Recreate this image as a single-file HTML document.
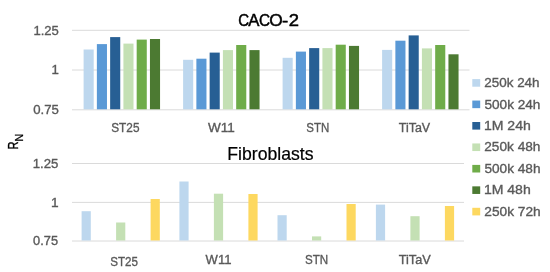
<!DOCTYPE html>
<html><head><meta charset="utf-8"><style>
html,body{margin:0;padding:0;background:#fff;}
body{width:550px;height:272px;overflow:hidden;}
svg{display:block;font-family:"Liberation Sans", sans-serif;transform:translateZ(0);will-change:transform;}
</style></head><body>
<svg width="550" height="272" viewBox="0 0 550 272">
<rect width="550" height="272" fill="#fff"/>
<line x1="72" y1="30.3" x2="469.5" y2="30.3" stroke="#DADADA" stroke-width="1"/>
<line x1="72" y1="70.0" x2="469.5" y2="70.0" stroke="#DADADA" stroke-width="1"/>
<line x1="72" y1="109.8" x2="469.5" y2="109.8" stroke="#DADADA" stroke-width="1"/>
<rect x="83.60" y="49.50" width="10.10" height="59.80" fill="#BDD7EE"/>
<rect x="96.87" y="44.10" width="10.10" height="65.20" fill="#5A99D6"/>
<rect x="110.14" y="37.10" width="10.10" height="72.20" fill="#275F94"/>
<rect x="123.41" y="43.60" width="10.10" height="65.70" fill="#C4E0B4"/>
<rect x="136.68" y="39.60" width="10.10" height="69.70" fill="#6FAC49"/>
<rect x="149.95" y="39.00" width="10.10" height="70.30" fill="#4C7A32"/>
<rect x="183.10" y="59.80" width="10.10" height="49.50" fill="#BDD7EE"/>
<rect x="196.37" y="58.70" width="10.10" height="50.60" fill="#5A99D6"/>
<rect x="209.64" y="52.60" width="10.10" height="56.70" fill="#275F94"/>
<rect x="222.91" y="50.10" width="10.10" height="59.20" fill="#C4E0B4"/>
<rect x="236.18" y="45.00" width="10.10" height="64.30" fill="#6FAC49"/>
<rect x="249.45" y="50.10" width="10.10" height="59.20" fill="#4C7A32"/>
<rect x="282.60" y="57.80" width="10.10" height="51.50" fill="#BDD7EE"/>
<rect x="295.87" y="51.60" width="10.10" height="57.70" fill="#5A99D6"/>
<rect x="309.14" y="48.10" width="10.10" height="61.20" fill="#275F94"/>
<rect x="322.41" y="48.10" width="10.10" height="61.20" fill="#C4E0B4"/>
<rect x="335.68" y="44.70" width="10.10" height="64.60" fill="#6FAC49"/>
<rect x="348.95" y="45.90" width="10.10" height="63.40" fill="#4C7A32"/>
<rect x="382.10" y="49.90" width="10.10" height="59.40" fill="#BDD7EE"/>
<rect x="395.37" y="40.70" width="10.10" height="68.60" fill="#5A99D6"/>
<rect x="408.64" y="35.40" width="10.10" height="73.90" fill="#275F94"/>
<rect x="421.91" y="48.40" width="10.10" height="60.90" fill="#C4E0B4"/>
<rect x="435.18" y="45.00" width="10.10" height="64.30" fill="#6FAC49"/>
<rect x="448.45" y="54.30" width="10.10" height="55.00" fill="#4C7A32"/>
<line x1="72" y1="163.5" x2="464" y2="163.5" stroke="#DADADA" stroke-width="1"/>
<line x1="72" y1="202.4" x2="464" y2="202.4" stroke="#DADADA" stroke-width="1"/>
<line x1="72" y1="241.0" x2="464" y2="241.0" stroke="#DADADA" stroke-width="1"/>
<rect x="81.60" y="211.20" width="9.20" height="29.30" fill="#BDD7EE"/>
<rect x="116.10" y="222.50" width="9.20" height="18.00" fill="#C4E0B4"/>
<rect x="150.60" y="199.00" width="9.20" height="41.50" fill="#FDD860"/>
<rect x="179.40" y="181.50" width="9.20" height="59.00" fill="#BDD7EE"/>
<rect x="213.90" y="193.70" width="9.20" height="46.80" fill="#C4E0B4"/>
<rect x="248.40" y="194.00" width="9.20" height="46.50" fill="#FDD860"/>
<rect x="277.50" y="215.20" width="9.20" height="25.30" fill="#BDD7EE"/>
<rect x="312.00" y="236.40" width="9.20" height="4.10" fill="#C4E0B4"/>
<rect x="346.50" y="204.00" width="9.20" height="36.50" fill="#FDD860"/>
<rect x="375.90" y="204.60" width="9.20" height="35.90" fill="#BDD7EE"/>
<rect x="410.40" y="216.20" width="9.20" height="24.30" fill="#C4E0B4"/>
<rect x="444.90" y="206.00" width="9.20" height="34.50" fill="#FDD860"/>
<text x="33.40" y="34.50" font-size="13.52" fill="#595959" textLength="25.44" lengthAdjust="spacingAndGlyphs" stroke="#595959" stroke-width="0.35">1.25</text>
<text x="51.59" y="73.80" font-size="13.08" fill="#595959" textLength="7.35" lengthAdjust="spacingAndGlyphs" stroke="#595959" stroke-width="0.35">1</text>
<text x="33.18" y="113.70" font-size="13.52" fill="#595959" textLength="25.67" lengthAdjust="spacingAndGlyphs" stroke="#595959" stroke-width="0.35">0.75</text>
<text x="32.70" y="168.20" font-size="13.37" fill="#595959" textLength="25.66" lengthAdjust="spacingAndGlyphs" stroke="#595959" stroke-width="0.35">1.25</text>
<text x="50.96" y="206.60" font-size="12.79" fill="#595959" textLength="7.61" lengthAdjust="spacingAndGlyphs" stroke="#595959" stroke-width="0.35">1</text>
<text x="33.10" y="244.60" font-size="12.50" fill="#595959" textLength="24.94" lengthAdjust="spacingAndGlyphs" stroke="#595959" stroke-width="0.35">0.75</text>
<text x="111.26" y="132.00" font-size="12.94" fill="#595959" textLength="28.23" lengthAdjust="spacingAndGlyphs" stroke="#595959" stroke-width="0.35">ST25</text>
<text x="208.04" y="132.00" font-size="12.94" fill="#595959" textLength="26.79" lengthAdjust="spacingAndGlyphs" stroke="#595959" stroke-width="0.35">W11</text>
<text x="306.28" y="132.20" font-size="12.65" fill="#595959" textLength="22.96" lengthAdjust="spacingAndGlyphs" stroke="#595959" stroke-width="0.35">STN</text>
<text x="398.74" y="132.10" font-size="12.65" fill="#595959" textLength="31.42" lengthAdjust="spacingAndGlyphs" stroke="#595959" stroke-width="0.35">TiTaV</text>
<text x="110.17" y="265.60" font-size="12.79" fill="#595959" textLength="27.71" lengthAdjust="spacingAndGlyphs" stroke="#595959" stroke-width="0.35">ST25</text>
<text x="205.64" y="263.80" font-size="12.94" fill="#595959" textLength="25.87" lengthAdjust="spacingAndGlyphs" stroke="#595959" stroke-width="0.35">W11</text>
<text x="304.97" y="264.00" font-size="12.94" fill="#595959" textLength="23.17" lengthAdjust="spacingAndGlyphs" stroke="#595959" stroke-width="0.35">STN</text>
<text x="398.73" y="263.80" font-size="12.79" fill="#595959" textLength="32.02" lengthAdjust="spacingAndGlyphs" stroke="#595959" stroke-width="0.35">TiTaV</text>
<text x="238.24" y="25.50" font-size="15.84" fill="#000" textLength="10.83" lengthAdjust="spacingAndGlyphs" stroke="#000" stroke-width="0.45">C</text>
<text x="248.27" y="25.50" font-size="15.84" fill="#000" textLength="11.17" lengthAdjust="spacingAndGlyphs" stroke="#000" stroke-width="0.45">A</text>
<text x="259.02" y="25.50" font-size="15.84" fill="#000" textLength="11.06" lengthAdjust="spacingAndGlyphs" stroke="#000" stroke-width="0.45">C</text>
<text x="269.38" y="25.50" font-size="15.84" fill="#000" textLength="13.45" lengthAdjust="spacingAndGlyphs" stroke="#000" stroke-width="0.45">O</text>
<text x="282.06" y="26.20" font-size="15.84" fill="#000" textLength="6.27" lengthAdjust="spacingAndGlyphs" stroke="#000" stroke-width="0.45">-</text>
<text x="288.67" y="25.50" font-size="15.84" fill="#000" textLength="10.25" lengthAdjust="spacingAndGlyphs" stroke="#000" stroke-width="0.45">2</text>
<text x="227.35" y="160.00" font-size="17.44" fill="#000" textLength="86.18" lengthAdjust="spacingAndGlyphs" stroke="#000" stroke-width="0.2">Fibroblasts</text>
<g transform="translate(18.4,149.4) rotate(-90) scale(0.72,1)"><text x="0" y="0" font-size="15.3" fill="#000" stroke="#000" stroke-width="0.35">R</text></g>
<g transform="translate(22.5,141.4) rotate(-90)"><text x="0" y="0" font-size="10.6" fill="#000" stroke="#000" stroke-width="0.25">N</text></g>
<rect x="472.30" y="79.10" width="7.90" height="7.60" fill="#BDD7EE"/>
<text x="484.32" y="87.10" font-size="13.32" fill="#595959" textLength="55.25" lengthAdjust="spacingAndGlyphs" stroke="#595959" stroke-width="0.35">250k 24h</text>
<rect x="472.30" y="100.55" width="7.90" height="7.60" fill="#5A99D6"/>
<text x="484.46" y="108.55" font-size="13.32" fill="#595959" textLength="55.93" lengthAdjust="spacingAndGlyphs" stroke="#595959" stroke-width="0.35">500k 24h</text>
<rect x="472.30" y="122.00" width="7.90" height="7.60" fill="#275F94"/>
<text x="483.93" y="130.00" font-size="13.32" fill="#595959" textLength="46.88" lengthAdjust="spacingAndGlyphs" stroke="#595959" stroke-width="0.35">1M 24h</text>
<rect x="472.30" y="143.45" width="7.90" height="7.60" fill="#C4E0B4"/>
<text x="484.31" y="151.45" font-size="13.32" fill="#595959" textLength="56.07" lengthAdjust="spacingAndGlyphs" stroke="#595959" stroke-width="0.35">250k 48h</text>
<rect x="472.30" y="164.90" width="7.90" height="7.60" fill="#6FAC49"/>
<text x="484.45" y="172.90" font-size="13.32" fill="#595959" textLength="56.03" lengthAdjust="spacingAndGlyphs" stroke="#595959" stroke-width="0.35">500k 48h</text>
<rect x="472.30" y="186.35" width="7.90" height="7.60" fill="#4C7A32"/>
<text x="483.93" y="194.35" font-size="13.32" fill="#595959" textLength="46.78" lengthAdjust="spacingAndGlyphs" stroke="#595959" stroke-width="0.35">1M 48h</text>
<rect x="472.30" y="207.80" width="7.90" height="7.60" fill="#FDD860"/>
<text x="484.31" y="215.80" font-size="13.32" fill="#595959" textLength="56.38" lengthAdjust="spacingAndGlyphs" stroke="#595959" stroke-width="0.35">250k 72h</text>
</svg>
</body></html>
